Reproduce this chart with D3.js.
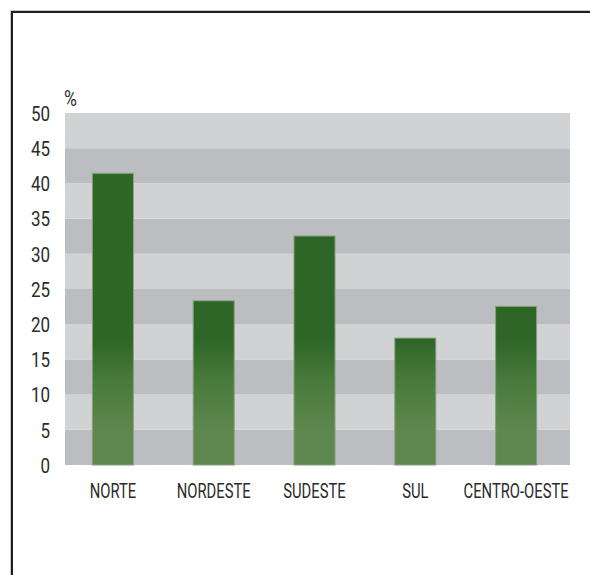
<!DOCTYPE html>
<html>
<head>
<meta charset="utf-8">
<script src="https://cdn.jsdelivr.net/npm/d3@7"></script>
<style>
  html, body { margin: 0; padding: 0; background: #fff; }
  svg { display: block; }
  text { font-family: Roboto, "Liberation Sans", sans-serif; fill: #2b2b2b; }
</style>
</head>
<body>
<div id="chart"></div>
<script>
// Regional shares (%)
const regions = ["NORTE", "NORDESTE", "SUDESTE", "SUL", "CENTRO-OESTE"];
const shares = [41.5, 23.4, 32.6, 18.1, 22.6];
const yTicks = [0, 5, 10, 15, 20, 25, 30, 35, 40, 45, 50];
const unitLabel = "%";

const W = 590, H = 575;
const plot = { left: 65, right: 570, top: 113, bottom: 465 };

const svg = d3.select("#chart").append("svg")
  .attr("width", W).attr("height", H);

// Outer frame (open at right/bottom, cropped)
svg.append("path")
  .attr("d", `M10.5,${H} V10.5 H${W}`)
  .attr("fill", "none").attr("stroke", "#c8c8c8").attr("stroke-width", 1);
svg.append("path")
  .attr("d", `M12,${H} V12 H${W}`)
  .attr("fill", "none").attr("stroke", "#1e1e1e").attr("stroke-width", 2);

const y = d3.scaleLinear().domain([0, 50]).range([plot.bottom, plot.top]);
const x = d3.scaleBand().domain(regions)
  .range([62.5, 566.5]).paddingInner(0.583).paddingOuter(0.2915);

// Alternating horizontal bands
const bands = yTicks.slice(0, -1).map((v, i) => ({ lo: v, hi: yTicks[i + 1], i }));
svg.append("g").selectAll("rect").data(bands).join("rect")
  .attr("x", plot.left)
  .attr("width", plot.right - plot.left)
  .attr("y", d => y(d.hi))
  .attr("height", d => y(d.lo) - y(d.hi))
  .attr("fill", d => d.i % 2 === 0 ? "#bcbdc1" : "#d1d2d4");

// Vertical gradient for bars, fixed to the page so all bars share it
const defs = svg.append("defs");
const grad = defs.append("linearGradient")
  .attr("id", "barGrad").attr("gradientUnits", "userSpaceOnUse")
  .attr("x1", 0).attr("x2", 0).attr("y1", 340).attr("y2", 430);
grad.append("stop").attr("offset", 0).attr("stop-color", "#2e6628");
grad.append("stop").attr("offset", 0.45).attr("stop-color", "#487a3b");
grad.append("stop").attr("offset", 1).attr("stop-color", "#5e874f");

svg.append("g").selectAll("rect").data(regions).join("rect")
  .attr("x", d => x(d) + 0.5)
  .attr("width", x.bandwidth() - 1)
  .attr("y", (d, i) => y(shares[i]) + 0.5)
  .attr("height", (d, i) => y(0) - y(shares[i]) - 0.5)
  .attr("fill", "url(#barGrad)")
  .attr("stroke", "#86a27c").attr("stroke-width", 1);

// Y axis labels (condensed by horizontal scaling)
const yAxis = d3.axisLeft(y).tickValues(yTicks).tickSize(0).tickPadding(0);
const gy = svg.append("g").attr("transform", "translate(50,0)").call(yAxis);
gy.select(".domain").remove();
gy.attr("font-family", null).attr("font-size", null);
gy.selectAll("text")
  .attr("font-size", 20).attr("fill", "#2b2b2b")
  .attr("dy", "0.36em")
  .attr("transform", "scale(0.85,1)");

svg.append("text")
  .attr("transform", "translate(64,106) scale(0.8,1)")
  .attr("font-size", 22)
  .text(unitLabel);

// X axis labels
const xAxis = d3.axisBottom(x).tickSize(0).tickPadding(0);
const gx = svg.append("g").attr("transform", "translate(0,498)").call(xAxis);
gx.select(".domain").remove();
gx.attr("font-family", null).attr("font-size", null);
gx.selectAll("text")
  .attr("font-size", 20).attr("fill", "#2b2b2b")
  .attr("y", 0).attr("dy", 0)
  .attr("transform", "scale(0.74,1)");
</script>
</body>
</html>
